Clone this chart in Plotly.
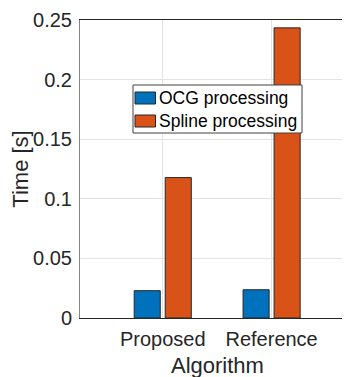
import plotly.graph_objects as go

categories = ["Proposed", "Reference"]
ocg_values = [0.0229, 0.0237]
spline_values = [0.1178, 0.2434]
series_names = ["OCG processing", "Spline processing"]
y_ticks = [0, 0.05, 0.1, 0.15, 0.2, 0.25]
y_tick_labels = ["0", "0.05", "0.1", "0.15", "0.2", "0.25"]

BLUE = "#0072BD"
ORANGE = "#D95319"
TXT = "#262626"
FONT = "Liberation Sans, Arial, sans-serif"

# page body has an 8px default margin; size the figure to fit inside the window
OFF = 8
WIN_W, WIN_H = 350, 377
PLOT_L, PLOT_T, PLOT_R, PLOT_B = 80, 20, 350, 318
W, H = WIN_W - OFF, WIN_H - OFF
ML, MT = PLOT_L - OFF, PLOT_T - OFF
MR = (OFF + W) - PLOT_R
MB = (OFF + H) - PLOT_B
PW, PH = PLOT_R - PLOT_L, PLOT_B - PLOT_T

xpos = [1, 2]

fig = go.Figure()
fig.add_trace(go.Bar(x=xpos, y=ocg_values, name=series_names[0],
                     marker=dict(color=BLUE, line=dict(color=TXT, width=1)),
                     showlegend=False))
fig.add_trace(go.Bar(x=xpos, y=spline_values, name=series_names[1],
                     marker=dict(color=ORANGE, line=dict(color=TXT, width=1)),
                     showlegend=False))

def px(x):
    return (x - PLOT_L) / PW

def py(y):
    return (PLOT_B - y) / PH

shapes = []
annotations = []
# legend box
shapes.append(dict(type="rect", xref="paper", yref="paper",
                   x0=px(133), x1=px(302), y0=py(133), y1=py(85),
                   fillcolor="white", line=dict(color="#404040", width=1), layer="above"))
for i, (name, col) in enumerate(zip(series_names, [BLUE, ORANGE])):
    yc = 98 + 23 * i
    shapes.append(dict(type="rect", xref="paper", yref="paper",
                       x0=px(135), x1=px(155.5), y0=py(yc + 6), y1=py(yc - 6),
                       fillcolor=col, line=dict(color=TXT, width=1), layer="above"))
    annotations.append(dict(text=name, xref="paper", yref="paper",
                            x=px(156.5), y=py(yc), xanchor="left", yanchor="middle",
                            showarrow=False, font=dict(size=17.5, color="#000000", family=FONT)))

# x-axis title
annotations.append(dict(text="Algorithm", xref="paper", yref="paper",
                        x=px(217.5), y=py(365), xanchor="center", yanchor="middle",
                        showarrow=False, font=dict(size=22, color=TXT, family=FONT)))

fig.update_layout(
    width=W, height=H,
    margin=dict(l=ML, r=MR, t=MT, b=MB, pad=0),
    paper_bgcolor="white", plot_bgcolor="white",
    barmode="group", bargap=0.43, bargroupgap=0.16,
    font=dict(family=FONT, size=20, color=TXT),
    shapes=shapes, annotations=annotations,
)
fig.update_xaxes(
    range=[0.24, 2.72], tickvals=xpos, ticktext=categories,
    showgrid=True, gridcolor="#e3e3e3", gridwidth=1,
    showline=True, linecolor=TXT, linewidth=1, mirror=True,
    ticks="", zeroline=False, ticklabelstandoff=3,
    automargin=False,
)
fig.update_yaxes(
    range=[0, 0.25], tickvals=y_ticks, ticktext=y_tick_labels,
    showgrid=True, gridcolor="#e3e3e3", gridwidth=1,
    showline=True, linecolor="#858585", linewidth=1,
    ticks="", zeroline=False, ticklabelstandoff=3,
    title=dict(text="Time [s]", standoff=5, font=dict(size=22, color=TXT)),
    automargin=False,
)

fig.write_html("out.html")
